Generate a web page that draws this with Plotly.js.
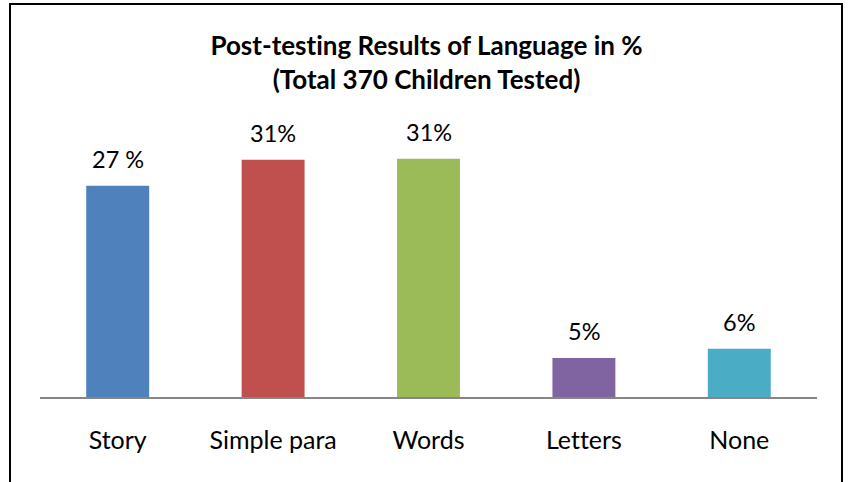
<!DOCTYPE html>
<html>
<head>
<meta charset="utf-8">
<script src="https://cdn.plot.ly/plotly-3.0.1.min.js"></script>
<style>
  html, body { margin: 0; padding: 0; background: #fff; overflow: hidden; }
  #chart { width: 853px; height: 482px; position: absolute; left: 0; top: 0; }
  #chart text { font-variant-ligatures: none; font-feature-settings: "liga" 0; }
  #frame { position: absolute; left: 9px; top: 3px; width: 834px; height: 500px;
           border: 2.5px solid #000; pointer-events: none; box-sizing: border-box; }
</style>
</head>
<body>
<div id="chart"></div>
<div id="frame"></div>
<script>
const categories = ["Story", "Simple para", "Words", "Letters", "None"];
const values = [27.6, 31.0, 31.1, 5.1, 6.3];
const valueLabels = ["27 %", "31%", "31%", "5%", "6%"];
const barColors = ["#4F81BD", "#C0504D", "#9BBB59", "#8064A2", "#4BACC6"];

const FONT = "Lato, 'Open Sans', sans-serif";

const trace = {
  type: "bar",
  x: categories,
  y: values,
  marker: { color: barColors },
  hoverinfo: "none"
};

const annotations = categories.map((c, i) => ({
  x: c, y: values[i], xref: "x", yref: "y",
  text: valueLabels[i], showarrow: false,
  yanchor: "middle", yshift: 27,
  font: { family: FONT, size: 23.5, color: "#000" }
}));

const layout = {
  width: 853, height: 482,
  margin: { l: 40, r: 36, t: 129, b: 85 },
  paper_bgcolor: "#fff", plot_bgcolor: "#fff",
  bargap: 0.595,
  showlegend: false,
  title: {
    text: "<b>Post-testing Results of Language in %<br>(Total 370 Children Tested)</b>",
    x: 0.5, xanchor: "center", y: 0.885, yanchor: "middle",
    font: { family: FONT, size: 26, color: "#000" }
  },
  xaxis: {
    type: "category",
    showline: true, linecolor: "#868686", linewidth: 2,
    ticks: "outside", ticklen: 20, tickcolor: "rgba(0,0,0,0)",
    tickfont: { family: FONT, size: 25, color: "#000" },
    showgrid: false, zeroline: false, fixedrange: true
  },
  yaxis: {
    range: [0, 35], visible: false, showgrid: false, zeroline: false, fixedrange: true
  },
  annotations: annotations
};

Plotly.newPlot("chart", [trace], layout, { displayModeBar: false, staticPlot: true });
</script>
</body>
</html>
